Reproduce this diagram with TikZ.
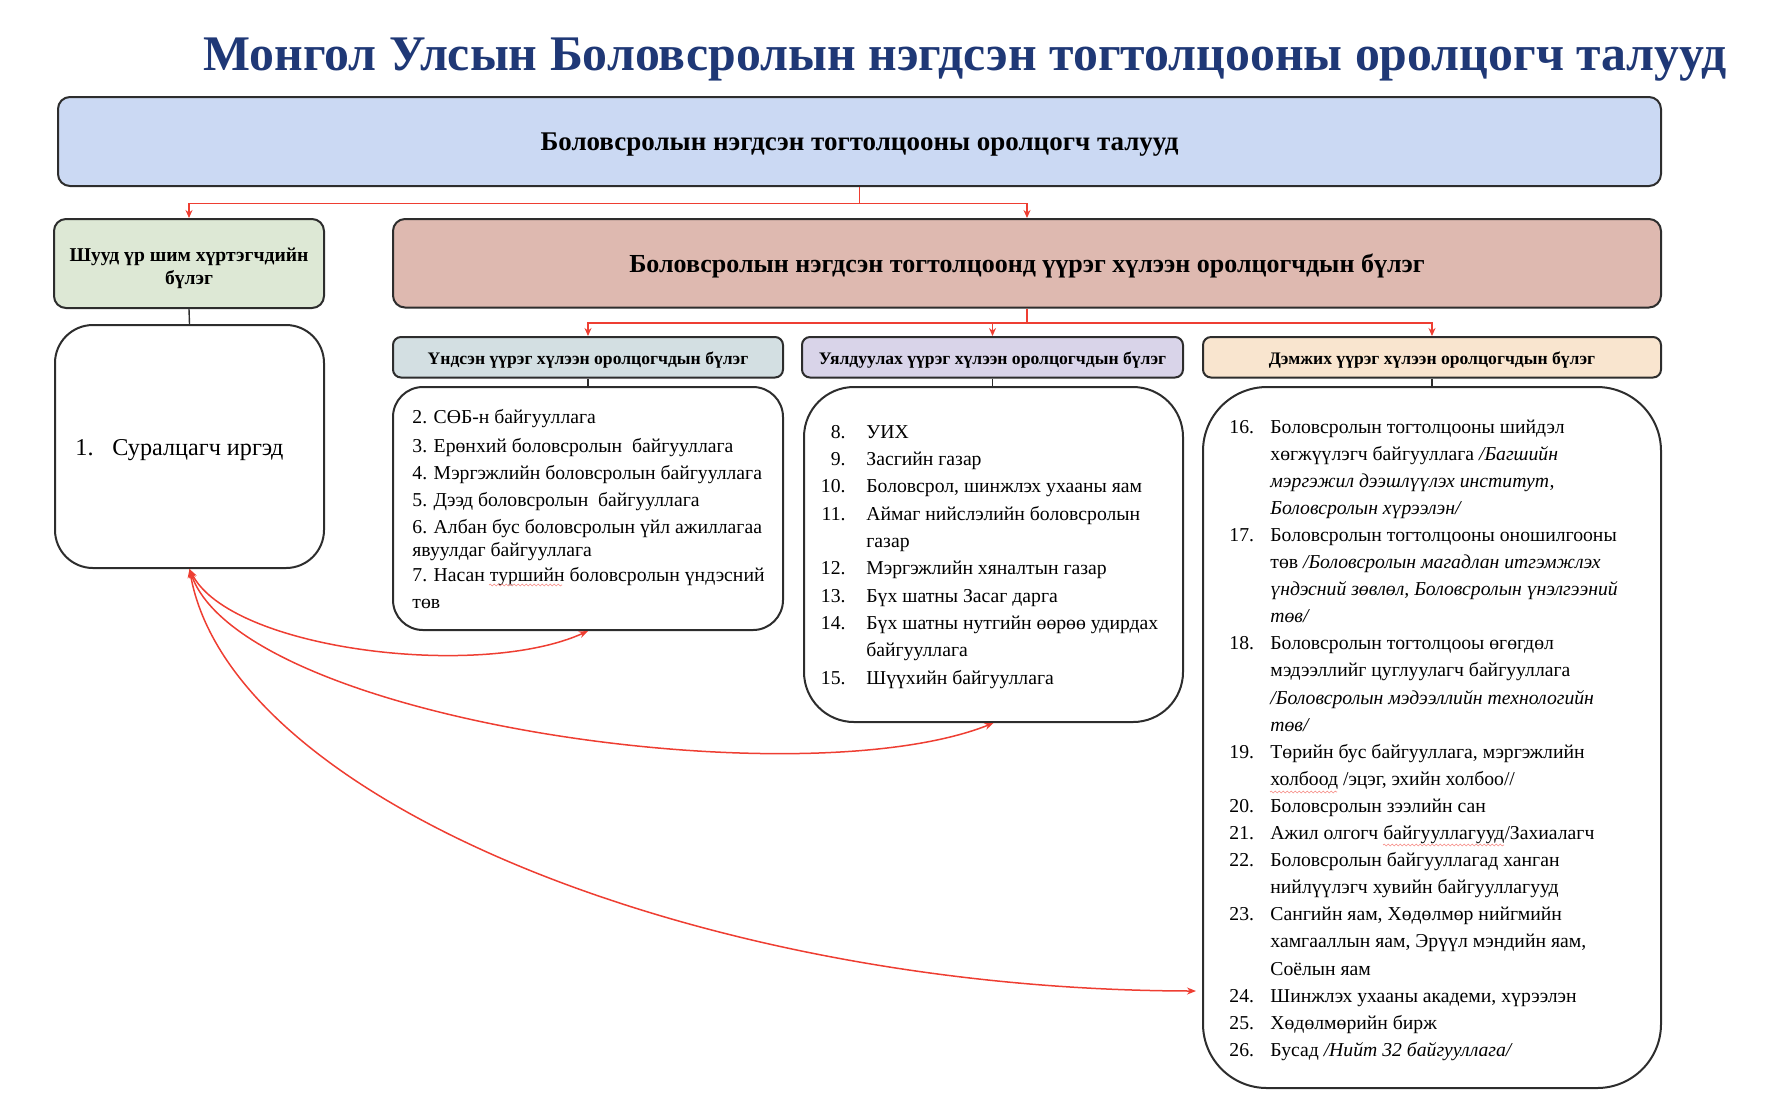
\documentclass[tikz,border=0pt]{standalone}
\usepackage{fontspec}
\setmainfont{Liberation Serif}
\usetikzlibrary{arrows.meta,decorations.pathmorphing}

\definecolor{titleblue}{RGB}{31,56,118}
\definecolor{boxline}{RGB}{45,45,45}
\definecolor{flowred}{RGB}{238,62,50}
\definecolor{topfill}{RGB}{203,217,243}
\definecolor{directfill}{RGB}{221,232,213}
\definecolor{rolefill}{RGB}{222,185,176}
\definecolor{corefill}{RGB}{211,223,226}
\definecolor{linkfill}{RGB}{217,212,233}
\definecolor{suppfill}{RGB}{249,229,207}

\tikzset{
  hdr/.style={draw=boxline, line width=1pt, rounded corners=6pt, inner sep=0pt,
    align=center, text height=0.9em, text depth=0pt, font=\bfseries\fontsize{13}{15}\selectfont},
  subhdr/.style={draw=boxline, line width=1pt, rounded corners=4pt, inner sep=0pt,
    minimum height=20.25pt, text height=0.7em, text depth=0pt,
    font=\bfseries\fontsize{8.8}{10}\selectfont},
  listbox/.style={draw=boxline, line width=1pt, inner sep=0pt},
  item/.style={anchor=base west, inner sep=0pt, font=\fontsize{9.85}{11}\selectfont},
  numr/.style={anchor=base east, inner sep=0pt, font=\fontsize{9.85}{11}\selectfont},
  flow/.style={draw=flowred, line width=0.75pt, -{Stealth[length=4pt,width=3.5pt]}},
  both/.style={draw=flowred, line width=0.75pt,
    {Stealth[length=4.5pt,width=3.5pt]}-{Stealth[length=4.5pt,width=3.5pt]}},
  stub/.style={draw=boxline, line width=0.7pt},
  spell/.style={draw=flowred!60, line width=0.3pt, decorate,
    decoration={snake, amplitude=0.45pt, segment length=2pt}}
}

\begin{document}
\begin{tikzpicture}[x=0.5pt, y=-0.5pt]
  \useasboundingbox (0,0) rectangle (1766,1100);
  % title
  \node[anchor=base, inner sep=0pt, text=titleblue, font=\bfseries\fontsize{24.9}{28}\selectfont]
    (title) at (965,70) {Монгол Улсын Боловсролын нэгдсэн тогтолцооны оролцогч талууд};
  % top level
  \node[hdr, fill=topfill, minimum width=801.5pt, minimum height=44.5pt,
    font=\bfseries\fontsize{13.5}{15}\selectfont] (top) at (859.5,141.5)
    {Боловсролын нэгдсэн тогтолцооны оролцогч талууд};
  \node[draw=boxline, line width=1pt, rounded corners=6pt, inner sep=0pt, align=center,
    fill=directfill, minimum width=135pt, minimum height=44.5pt,
    font=\bfseries\fontsize{9.8}{11.7}\selectfont] (direct) at (189,263.5)
    {\rule{0pt}{11.3pt}Шууд үр шим хүртэгчдийн\\бүлэг};
  \node[hdr, fill=rolefill, minimum width=634pt, minimum height=44.25pt] (role) at (1027,263.25)
    {Боловсролын нэгдсэн тогтолцоонд үүрэг хүлээн оролцогчдын бүлэг};
  \draw[flow] (top.south) -- ++(0,16.5) -| (direct.north);
  \draw[flow] (top.south) -- ++(0,16.5) -| (role.north);
  % learners
  \node[listbox, rounded corners=19pt, minimum width=134.5pt, minimum height=121.5pt]
    (learner) at (189.5,446.5) {};
  \node[anchor=base west, inner sep=0pt, font=\fontsize{12.1}{15}\selectfont] (learnerT) at (75,455)
    {\makebox[18.5pt][l]{1.}Суралцагч иргэд};
  \draw[stub] (direct.south) -- (learner.north);
  % role groups
  \node[subhdr, fill=corefill, minimum width=195pt] (core) at (588,357.25)
    {Үндсэн үүрэг хүлээн оролцогчдын бүлэг};
  \node[subhdr, fill=linkfill, minimum width=190.5pt] (link) at (992.5,357.25)
    {Уялдуулах үүрэг хүлээн оролцогчдын бүлэг};
  \node[subhdr, fill=suppfill, minimum width=229pt] (supp) at (1432,357.25)
    {Дэмжих үүрэг хүлээн оролцогчдын бүлэг};
  \draw[flow] (role.south) -- ++(0,14.5) -| (core.north);
  \draw[flow] (role.south) -- ++(0,14.5) -| (link.north);
  \draw[flow] (role.south) -- ++(0,14.5) -| (supp.north);
  % lists
  \node[listbox, rounded corners=15pt, minimum width=195pt, minimum height=121.5pt]
    (coreL) at (588,508.5) {};
  \node[listbox, rounded corners=25pt, minimum width=189.5pt, minimum height=167.5pt]
    (linkL) at (993.5,554.5) {};
  \node[listbox, rounded corners=32pt, minimum width=229pt, minimum height=350.5pt]
    (suppL) at (1432,737.5) {};
  \draw[stub] (core.south) -- (core.south |- coreL.north);
  \draw[stub] (link.south) -- (link.south |- linkL.north);
  \draw[stub] (supp.south) -- (supp.south |- suppL.north);
  % core items
  \foreach \y/\t [count=\k] in {423/{2. СӨБ-н байгууллага},
      452/{3. Ерөнхий боловсролын\ \ байгууллага},
      479/{4. Мэргэжлийн боловсролын байгууллага},
      506/{5. Дээд боловсролын\ \ байгууллага},
      533/{6. Албан бус боловсролын үйл ажиллагаа},
      556/{явуулдаг байгууллага},
      581/{7. Насан туршийн боловсролын үндэсний},
      608/{төв}}
    \node[item] (c\k) at (412,\y) {\t};
  \draw[spell] (489,585) -- (562,585);
  % linking items
  \foreach \n/\t [count=\k from 0] in {8./{УИХ}, 9./{Засгийн газар},
      10./{Боловсрол, шинжлэх ухааны яам}, 11./{Аймаг нийслэлийн боловсролын},
      {}/{газар}, 12./{Мэргэжлийн хяналтын газар}, 13./{Бүх шатны Засаг дарга},
      14./{Бүх шатны нутгийн өөрөө удирдах}, {}/{байгууллага},
      15./{Шүүхийн байгууллага}} {
    \node[numr] (ln\k) at (846,{438.3+27.3*\k}) {\n};
    \node[item] (l\k) at (866,{438.3+27.3*\k}) {\t};
  }
  % supporting items
  \foreach \n/\t [count=\k from 0] in {16./{Боловсролын тогтолцооны шийдэл},
      {}/{хөгжүүлэгч байгууллага \textit{/Багшийн}},
      {}/{\textit{мэргэжил дээшлүүлэх институт,}},
      {}/{\textit{Боловсролын хүрээлэн/}},
      17./{Боловсролын тогтолцооны оношилгооны},
      {}/{төв \textit{/Боловсролын магадлан итгэмжлэх}},
      {}/{\textit{үндэсний зөвлөл, Боловсролын үнэлгээний}},
      {}/{\textit{төв/}},
      18./{Боловсролын тогтолцооы өгөгдөл},
      {}/{мэдээллийг цуглуулагч байгууллага},
      {}/{\textit{/Боловсролын мэдээллийн технологийн}},
      {}/{\textit{төв/}},
      19./{Төрийн бус байгууллага, мэргэжлийн},
      {}/{холбоод /эцэг, эхийн холбоо//},
      20./{Боловсролын зээлийн сан},
      21./{Ажил олгогч байгууллагууд/Захиалагч},
      22./{Боловсролын байгууллагад ханган},
      {}/{нийлүүлэгч хувийн байгууллагууд},
      23./{Сангийн яам, Хөдөлмөр нийгмийн},
      {}/{хамгааллын яам, Эрүүл мэндийн яам,},
      {}/{Соёлын яам},
      24./{Шинжлэх ухааны академи, хүрээлэн},
      25./{Хөдөлмөрийн бирж},
      26./{Бусад \textit{/Нийт 32 байгууллага/}}} {
    \node[item] (sn\k) at (1229,{433+27.1*\k}) {\n};
    \node[item] (s\k) at (1270,{433+27.1*\k}) {\t};
  }
  \draw[spell] (1270,792) -- (1337,792);
  \draw[spell] (1383,845) -- (1504,845);
  % learner links
  \coordinate (suppIn) at (1196,991);
  \draw[both] (learner.south) .. controls (230,650) and (480,680) .. (coreL.south);
  \draw[both] (learner.south) .. controls (240,720) and (800,800) .. (linkL.south);
  \draw[both] (learner.south) .. controls (230,800) and (700,990) .. (suppIn);
\end{tikzpicture}
\end{document}
